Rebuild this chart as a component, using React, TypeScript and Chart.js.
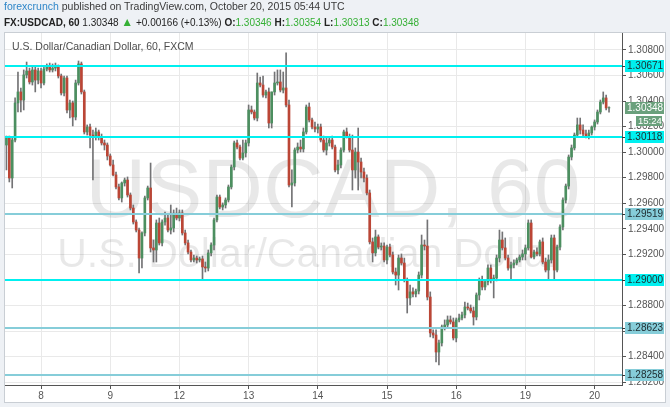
import React, { useEffect, useRef } from 'react';
import { Chart, registerables } from 'chart.js';

Chart.register(...registerables);

const FONT = '"Liberation Sans", Arial, sans-serif';

const dayLabels = ['8', '9', '12', '13', '14', '15', '16', '19', '20'];
const candlesBeforeFirstDay = 12;
const candlesPerDay = 24;
const emptySlotsAtEnd = 4;

const yTicks = [1.282, 1.284, 1.286, 1.288, 1.29, 1.292, 1.294, 1.296, 1.298, 1.3, 1.302, 1.304, 1.306, 1.308];
const yMin = 1.28179;
const yMax = 1.30932;

const levelValues = [1.30671, 1.30118, 1.29519, 1.29, 1.28623, 1.28258];
const levelBright = [true, true, false, true, false, false];

const lastPrice = 1.30348;
const countdown = '15:24';

// [open, high, low, close] hourly candles, Oct 7 12:00 .. Oct 20 05:00
const candles: number[][] = [
  [1.30056, 1.30126, 1.29861, 1.30111],
  [1.30111, 1.30126, 1.29767, 1.29798],
  [1.29798, 1.30111, 1.29720, 1.30095],
  [1.30095, 1.30424, 1.30080, 1.30385],
  [1.30385, 1.30627, 1.30314, 1.30471],
  [1.30471, 1.30502, 1.30314, 1.30408],
  [1.30408, 1.30643, 1.30330, 1.30604],
  [1.30604, 1.30705, 1.30580, 1.30635],
  [1.30635, 1.30658, 1.30533, 1.30549],
  [1.30549, 1.30674, 1.30525, 1.30643],
  [1.30643, 1.30674, 1.30471, 1.30564],
  [1.30564, 1.30658, 1.30533, 1.30635],
  // Oct 8
  [1.30635, 1.30658, 1.30502, 1.30541],
  [1.30541, 1.30674, 1.30525, 1.30650],
  [1.30650, 1.30690, 1.30635, 1.30666],
  [1.30666, 1.30697, 1.30627, 1.30643],
  [1.30643, 1.30690, 1.30627, 1.30658],
  [1.30658, 1.30697, 1.30635, 1.30666],
  [1.30666, 1.30682, 1.30580, 1.30596],
  [1.30596, 1.30611, 1.30447, 1.30463],
  [1.30463, 1.30596, 1.30439, 1.30580],
  [1.30580, 1.30596, 1.30306, 1.30330],
  [1.30330, 1.30408, 1.30267, 1.30385],
  [1.30385, 1.30400, 1.30205, 1.30275],
  [1.30275, 1.30564, 1.30252, 1.30541],
  [1.30541, 1.30713, 1.30525, 1.30690],
  [1.30690, 1.30705, 1.30455, 1.30471],
  [1.30471, 1.30486, 1.30142, 1.30158],
  [1.30158, 1.30213, 1.30134, 1.30197],
  [1.30197, 1.30220, 1.30033, 1.30134],
  [1.30134, 1.30173, 1.29782, 1.30119],
  [1.30119, 1.30189, 1.30095, 1.30158],
  [1.30158, 1.30173, 1.30095, 1.30119],
  [1.30119, 1.30142, 1.30056, 1.30072],
  [1.30072, 1.30095, 1.30017, 1.30056],
  [1.30056, 1.30072, 1.29939, 1.29970],
  // Oct 9
  [1.29970, 1.29986, 1.29892, 1.29900],
  [1.29900, 1.29939, 1.29814, 1.29822],
  [1.29822, 1.29845, 1.29712, 1.29728],
  [1.29728, 1.29751, 1.29626, 1.29642],
  [1.29642, 1.29767, 1.29610, 1.29759],
  [1.29759, 1.29798, 1.29735, 1.29782],
  [1.29782, 1.29806, 1.29649, 1.29665],
  [1.29665, 1.29681, 1.29548, 1.29563],
  [1.29563, 1.29587, 1.29438, 1.29454],
  [1.29454, 1.29470, 1.29376, 1.29391],
  [1.29391, 1.29407, 1.29055, 1.29172],
  [1.29172, 1.29376, 1.29094, 1.29368],
  [1.29368, 1.29657, 1.29344, 1.29642],
  [1.29642, 1.29735, 1.29626, 1.29720],
  [1.29720, 1.29915, 1.29219, 1.29251],
  [1.29251, 1.29313, 1.29141, 1.29235],
  [1.29235, 1.29470, 1.29141, 1.29446],
  [1.29446, 1.29485, 1.29274, 1.29290],
  [1.29290, 1.29470, 1.29266, 1.29454],
  [1.29454, 1.29532, 1.29430, 1.29485],
  [1.29485, 1.29509, 1.29376, 1.29391],
  [1.29391, 1.29587, 1.29360, 1.29407],
  [1.29407, 1.29548, 1.29376, 1.29509],
  [1.29509, 1.29563, 1.29470, 1.29485],
  // Oct 12
  [1.29485, 1.29548, 1.29462, 1.29524],
  [1.29524, 1.29548, 1.29352, 1.29368],
  [1.29368, 1.29391, 1.29274, 1.29290],
  [1.29290, 1.29313, 1.29204, 1.29219],
  [1.29219, 1.29235, 1.29141, 1.29157],
  [1.29157, 1.29196, 1.29141, 1.29172],
  [1.29172, 1.29188, 1.29133, 1.29157],
  [1.29157, 1.29180, 1.29141, 1.29165],
  [1.29165, 1.29188, 1.29008, 1.29102],
  [1.29102, 1.29141, 1.29063, 1.29094],
  [1.29094, 1.29235, 1.29071, 1.29212],
  [1.29212, 1.29290, 1.29188, 1.29274],
  [1.29274, 1.29485, 1.29235, 1.29470],
  [1.29470, 1.29665, 1.29454, 1.29649],
  [1.29649, 1.29665, 1.29556, 1.29571],
  [1.29571, 1.29603, 1.29548, 1.29587],
  [1.29587, 1.29642, 1.29563, 1.29626],
  [1.29626, 1.29743, 1.29610, 1.29728],
  [1.29728, 1.29900, 1.29712, 1.29884],
  [1.29884, 1.30087, 1.29861, 1.30072],
  [1.30072, 1.30095, 1.30025, 1.30040],
  [1.30040, 1.30056, 1.29939, 1.29954],
  [1.29954, 1.30095, 1.29939, 1.29994],
  [1.29994, 1.30095, 1.29962, 1.30072],
  // Oct 13
  [1.30072, 1.30369, 1.30048, 1.30330],
  [1.30330, 1.30361, 1.30299, 1.30314],
  [1.30314, 1.30330, 1.30252, 1.30267],
  [1.30267, 1.30619, 1.30244, 1.30541],
  [1.30541, 1.30588, 1.30510, 1.30525],
  [1.30525, 1.30596, 1.30431, 1.30447],
  [1.30447, 1.30486, 1.30424, 1.30471],
  [1.30471, 1.30502, 1.30189, 1.30228],
  [1.30228, 1.30471, 1.30189, 1.30471],
  [1.30471, 1.30627, 1.30447, 1.30541],
  [1.30541, 1.30643, 1.30525, 1.30549],
  [1.30549, 1.30643, 1.30471, 1.30486],
  [1.30486, 1.30627, 1.30463, 1.30502],
  [1.30502, 1.30776, 1.30353, 1.30369],
  [1.30369, 1.30408, 1.29728, 1.29743],
  [1.29743, 1.29861, 1.29571, 1.29759],
  [1.29759, 1.30033, 1.29735, 1.30017],
  [1.30017, 1.30072, 1.29994, 1.30040],
  [1.30040, 1.30095, 1.30001, 1.30025],
  [1.30025, 1.30189, 1.30001, 1.30158],
  [1.30158, 1.30369, 1.30142, 1.30353],
  [1.30353, 1.30385, 1.30236, 1.30252],
  [1.30252, 1.30267, 1.30181, 1.30197],
  [1.30197, 1.30236, 1.30158, 1.30181],
  // Oct 14
  [1.30181, 1.30220, 1.30150, 1.30197],
  [1.30197, 1.30220, 1.30080, 1.30095],
  [1.30095, 1.30126, 1.30001, 1.30017],
  [1.30017, 1.30111, 1.29978, 1.30072],
  [1.30072, 1.30119, 1.30048, 1.30095],
  [1.30095, 1.30126, 1.30025, 1.30040],
  [1.30040, 1.30056, 1.29845, 1.29861],
  [1.29861, 1.29939, 1.29829, 1.29900],
  [1.29900, 1.30033, 1.29876, 1.30017],
  [1.30017, 1.30173, 1.30001, 1.30158],
  [1.30158, 1.30189, 1.30111, 1.30119],
  [1.30119, 1.30142, 1.30001, 1.30017],
  [1.30017, 1.30134, 1.29704, 1.29861],
  [1.29861, 1.30033, 1.29798, 1.30001],
  [1.30001, 1.30189, 1.29704, 1.29923],
  [1.29923, 1.29954, 1.29798, 1.29845],
  [1.29845, 1.29876, 1.29767, 1.29798],
  [1.29798, 1.29822, 1.29665, 1.29681],
  [1.29681, 1.29704, 1.29282, 1.29298],
  [1.29298, 1.29329, 1.29141, 1.29212],
  [1.29212, 1.29391, 1.29188, 1.29337],
  [1.29337, 1.29353, 1.29243, 1.29258],
  [1.29258, 1.29290, 1.29235, 1.29266],
  [1.29266, 1.29290, 1.29141, 1.29157],
  // Oct 15
  [1.29157, 1.29274, 1.29126, 1.29258],
  [1.29258, 1.29282, 1.29180, 1.29196],
  [1.29196, 1.29219, 1.29047, 1.29063],
  [1.29063, 1.29094, 1.28961, 1.29039],
  [1.29039, 1.29196, 1.28922, 1.29172],
  [1.29172, 1.29204, 1.29118, 1.29133],
  [1.29133, 1.29172, 1.28985, 1.29000],
  [1.29000, 1.29016, 1.28742, 1.28860],
  [1.28860, 1.28961, 1.28805, 1.28907],
  [1.28907, 1.28938, 1.28867, 1.28891],
  [1.28891, 1.28930, 1.28867, 1.28914],
  [1.28914, 1.29063, 1.28891, 1.29039],
  [1.29039, 1.29352, 1.29016, 1.29274],
  [1.29274, 1.29313, 1.29235, 1.29266],
  [1.29266, 1.29470, 1.28844, 1.28867],
  [1.28867, 1.28907, 1.28555, 1.28586],
  [1.28586, 1.28610, 1.28547, 1.28570],
  [1.28570, 1.28610, 1.28359, 1.28437],
  [1.28437, 1.28531, 1.28336, 1.28508],
  [1.28508, 1.28648, 1.28484, 1.28633],
  [1.28633, 1.28688, 1.28609, 1.28648],
  [1.28648, 1.28719, 1.28625, 1.28688],
  [1.28688, 1.28719, 1.28656, 1.28672],
  [1.28672, 1.28703, 1.28531, 1.28547],
  // Oct 16
  [1.28547, 1.28703, 1.28516, 1.28688],
  [1.28688, 1.28734, 1.28672, 1.28703],
  [1.28703, 1.28750, 1.28688, 1.28727],
  [1.28727, 1.28828, 1.28703, 1.28789],
  [1.28789, 1.28820, 1.28766, 1.28781],
  [1.28781, 1.28805, 1.28742, 1.28758],
  [1.28758, 1.28789, 1.28648, 1.28711],
  [1.28711, 1.28899, 1.28688, 1.28883],
  [1.28883, 1.29016, 1.28844, 1.29000],
  [1.29000, 1.29031, 1.28922, 1.28946],
  [1.28946, 1.29000, 1.28922, 1.28985],
  [1.28985, 1.29118, 1.28961, 1.29094],
  [1.29094, 1.29118, 1.28977, 1.29000],
  [1.29000, 1.29039, 1.28860, 1.29016],
  [1.29016, 1.29196, 1.28993, 1.29172],
  [1.29172, 1.29391, 1.29141, 1.29313],
  [1.29313, 1.29376, 1.29235, 1.29251],
  [1.29251, 1.29329, 1.29157, 1.29172],
  [1.29172, 1.29196, 1.29078, 1.29094],
  [1.29094, 1.29141, 1.29000, 1.29118],
  [1.29118, 1.29157, 1.29094, 1.29133],
  [1.29133, 1.29172, 1.29118, 1.29157],
  [1.29157, 1.29196, 1.29141, 1.29180],
  [1.29180, 1.29235, 1.29157, 1.29204],
  // Oct 19
  [1.29204, 1.29274, 1.29157, 1.29251],
  [1.29251, 1.29470, 1.29235, 1.29446],
  [1.29446, 1.29470, 1.29172, 1.29180],
  [1.29180, 1.29235, 1.29165, 1.29219],
  [1.29219, 1.29251, 1.29188, 1.29204],
  [1.29204, 1.29313, 1.29188, 1.29298],
  [1.29298, 1.29329, 1.29126, 1.29141],
  [1.29141, 1.29172, 1.29063, 1.29078],
  [1.29078, 1.29196, 1.29000, 1.29157],
  [1.29157, 1.29352, 1.29133, 1.29329],
  [1.29329, 1.29352, 1.29000, 1.29078],
  [1.29078, 1.29274, 1.29063, 1.29258],
  [1.29258, 1.29431, 1.29235, 1.29415],
  [1.29415, 1.29642, 1.29391, 1.29626],
  [1.29626, 1.29751, 1.29603, 1.29735],
  [1.29735, 1.29978, 1.29712, 1.29962],
  [1.29962, 1.30056, 1.29939, 1.30033],
  [1.30033, 1.30150, 1.30017, 1.30134],
  [1.30134, 1.30267, 1.30119, 1.30213],
  [1.30213, 1.30267, 1.30142, 1.30173],
  [1.30173, 1.30213, 1.30126, 1.30142],
  [1.30142, 1.30173, 1.30111, 1.30119],
  [1.30119, 1.30173, 1.30103, 1.30150],
  [1.30150, 1.30205, 1.30134, 1.30197],
  // Oct 20
  [1.30197, 1.30252, 1.30173, 1.30236],
  [1.30236, 1.30330, 1.30220, 1.30314],
  [1.30314, 1.30408, 1.30299, 1.30392],
  [1.30392, 1.30471, 1.30377, 1.30424],
  [1.30424, 1.30447, 1.30330, 1.30346],
  [1.30346, 1.30354, 1.30313, 1.30348],
];

const UP = '#4c8f60';
const DOWN = '#bb4636';
const WICK = '#737375';

function buildLabels(): string[] {
  const total = candles.length + emptySlotsAtEnd;
  const out: string[] = [];
  for (let k = 0; k < total; k++) {
    const r = k - candlesBeforeFirstDay;
    out.push(r >= 0 && r % candlesPerDay === 0 ? dayLabels[r / candlesPerDay] ?? '' : '');
  }
  return out;
}

const decorPlugin = {
  id: 'decor',
  beforeDraw(chart: any) {
    const { ctx } = chart;
    ctx.save();
    ctx.fillStyle = '#ffffff';
    ctx.fillRect(5, 33, 660, 369);
    ctx.strokeStyle = '#c9ced4';
    ctx.lineWidth = 1;
    ctx.strokeRect(4.5, 32.5, 661, 370);
    ctx.restore();
  },
  beforeDatasetsDraw(chart: any) {
    const { ctx, chartArea: a } = chart;
    ctx.save();
    ctx.beginPath();
    ctx.rect(a.left, a.top, a.right - a.left, a.bottom - a.top);
    ctx.clip();
    ctx.fillStyle = 'rgba(0,0,0,0.09)';
    ctx.textAlign = 'center';
    ctx.textBaseline = 'alphabetic';
    ctx.font = `84px ${FONT}`;
    ctx.fillText('USDCAD, 60', 333, 217);
    ctx.font = `41px ${FONT}`;
    ctx.fillText('U.S. Dollar/Canadian Dollar', 309, 267);
    ctx.fillStyle = '#4d4d4d';
    ctx.textAlign = 'left';
    ctx.font = `10.5px ${FONT}`;
    ctx.fillText('U.S. Dollar/Canadian Dollar, 60, FXCM', 12, 50);
    ctx.restore();
  },
  afterDraw(chart: any) {
    const { ctx, chartArea: a, scales } = chart;
    const ys = scales.y;
    ctx.save();
    ctx.font = `10px ${FONT}`;
    ctx.textBaseline = 'middle';
    ctx.textAlign = 'left';
    levelValues.forEach((v, k) => {
      const py = Math.round(ys.getPixelForValue(v));
      const col = levelBright[k] ? '#00f0f0' : '#86cdd9';
      ctx.fillStyle = col;
      ctx.fillRect(a.left, py - 1, a.right - a.left, 2);
      ctx.fillRect(a.right + 3, py - 6, 39, 12);
      ctx.fillStyle = '#333';
      ctx.fillRect(a.right, py, 3, 1);
      ctx.fillStyle = '#1d2b2f';
      ctx.fillText(v.toFixed(5), a.right + 5, py + 0.5);
    });
    const pp = Math.round(ys.getPixelForValue(lastPrice));
    ctx.fillStyle = '#6aa07c';
    ctx.fillRect(a.right + 3, pp - 6, 39, 12);
    ctx.fillStyle = '#ffffff';
    ctx.fillText(lastPrice.toFixed(5), a.right + 5, pp + 0.5);
    ctx.fillStyle = '#6aa07c';
    ctx.fillRect(a.right + 14, pp + 8, 26, 10);
    ctx.fillStyle = '#ffffff';
    ctx.font = `9.5px ${FONT}`;
    ctx.fillText(countdown, a.right + 16, pp + 13.5);
    ctx.restore();
  },
};

function CandleChart() {
  const ref = useRef<HTMLCanvasElement | null>(null);
  useEffect(() => {
    if (!ref.current) return;
    const labels = buildLabels();
    const bodies = candles.map((c) => [Math.min(c[0], c[3]), Math.max(c[0], c[3])]);
    const bodyColors = candles.map((c) => (c[3] >= c[0] ? UP : DOWN));
    const wicks = candles.map((c) => [c[2], c[1]]);
    const dayIdx: number[] = [];
    labels.forEach((l, k) => { if (l) dayIdx.push(k); });

    const chart = new Chart(ref.current, {
      type: 'bar',
      data: {
        labels,
        datasets: [
          {
            data: bodies as any,
            backgroundColor: bodyColors,
            borderWidth: 0,
            barThickness: 2,
            grouped: false,
            borderSkipped: false,
          } as any,
          {
            data: wicks as any,
            backgroundColor: WICK,
            borderWidth: 0,
            barThickness: 1,
            grouped: false,
            borderSkipped: false,
          } as any,
        ],
      },
      options: {
        responsive: false,
        animation: false,
        devicePixelRatio: 1,
        layout: { padding: { top: 33, left: 5, right: 5, bottom: 5 } },
        plugins: { legend: { display: false }, tooltip: { enabled: false }, title: { display: false } },
        scales: {
          x: {
            type: 'category',
            offset: true,
            grid: { offset: false, color: '#e9e9e9', drawTicks: true, tickLength: 4, tickColor: '#555' },
            border: { color: '#555', width: 1 },
            ticks: { autoSkip: false, maxRotation: 0, color: '#555', font: { size: 10, family: FONT }, padding: 1 },
            afterBuildTicks: (s: any) => { s.ticks = dayIdx.map((v) => ({ value: v })); },
            afterFit: (s: any) => { s.height = 17; },
          },
          y: {
            position: 'right',
            min: yMin,
            max: yMax,
            grid: { color: '#e9e9e9', drawTicks: true, tickLength: 4, tickColor: '#555' },
            border: { color: '#555', width: 1 },
            ticks: {
              color: '#555',
              font: { size: 10, family: FONT },
              padding: 2,
              callback: (v: any) => Number(v).toFixed(5),
            },
            afterBuildTicks: (s: any) => { s.ticks = yTicks.map((v) => ({ value: v })); },
            afterFit: (s: any) => { s.width = 43; },
          },
        },
      } as any,
      plugins: [decorPlugin],
    });
    return () => chart.destroy();
  }, []);
  return <canvas ref={ref} width={670} height={407} style={{ position: 'absolute', left: 0, top: 0 }} />;
}

export default function App() {
  const green = '#35b035';
  const lbl = { fontWeight: 700 as const, color: '#222' };
  return (
    <div style={{ position: 'fixed', left: 0, top: 0, width: 670, height: 407, background: '#eef1f5', fontFamily: FONT, overflow: 'hidden' }}>
      <CandleChart />
      <div style={{ position: 'absolute', left: 4, top: 0, fontSize: 10.5, lineHeight: '13px', color: '#3a3a3a', whiteSpace: 'nowrap' }}>
        <span style={{ color: '#2f86c8' }}>forexcrunch</span> published on TradingView.com, October 20, 2015 05:44 UTC
      </div>
      <div style={{ position: 'absolute', left: 4, top: 16, fontSize: 10, lineHeight: '13px', color: '#222', whiteSpace: 'nowrap' }}>
        <span style={lbl}>FX:USDCAD, 60</span> 1.30348 <span style={{ color: green, fontSize: 12 }}>▲</span> +0.00166 (+0.13%){' '}
        <span style={lbl}>O:</span><span style={{ color: green }}>1.30346</span>{' '}
        <span style={lbl}>H:</span><span style={{ color: green }}>1.30354</span>{' '}
        <span style={lbl}>L:</span><span style={{ color: green }}>1.30313</span>{' '}
        <span style={lbl}>C:</span><span style={{ color: green }}>1.30348</span>
      </div>
    </div>
  );
}
